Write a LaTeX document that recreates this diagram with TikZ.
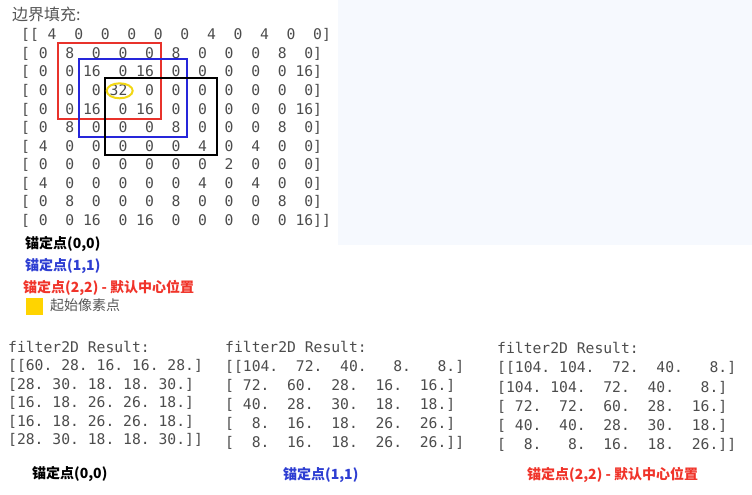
\documentclass[tikz,border=0pt]{standalone}
\usepackage{fontspec}
\newfontfamily\monof{DejaVu Sans Mono}
\newfontfamily\cjk{Noto Sans CJK SC}
\definecolor{monogray}{HTML}{4C4C4C}
\definecolor{labgray}{HTML}{555555}
\definecolor{rrect}{HTML}{E8322B}
\definecolor{brect}{HTML}{2626DA}
\definecolor{btext}{HTML}{2E3ED2}
\definecolor{rtext}{HTML}{F0342A}
\definecolor{ylw}{HTML}{FFD400}
\definecolor{ylwring}{HTML}{F2D714}
\definecolor{bgblue}{HTML}{F6F9FE}
\begin{document}
\begin{tikzpicture}[x=1pt,y=-1pt,
  mono/.style={anchor=base west, inner sep=0pt, font=\monof\fontsize{14.7}{16}\selectfont, text=monogray},
  lab/.style={anchor=base west, inner sep=0pt, font=\cjk\bfseries\fontsize{14}{16}\selectfont},
  frame/.style={line width=2pt}]
\useasboundingbox (0,0) rectangle (752,495);
\fill[bgblue] (338,0) rectangle (752,245);

% title
\node[anchor=base west, inner sep=0pt, font=\cjk\fontsize{16}{18}\selectfont, text=labgray] (title) at (12,21) {边界填充:};

% padded matrix
\foreach \t [count=\i] in {
  {[[~4~~0~~0~~0~~0~~0~~4~~0~~4~~0~~0]},
  {[~0~~8~~0~~0~~0~~8~~0~~0~~0~~8~~0]},
  {[~0~~0~16~~0~16~~0~~0~~0~~0~~0~16]},
  {[~0~~0~~0~32~~0~~0~~0~~0~~0~~0~~0]},
  {[~0~~0~16~~0~16~~0~~0~~0~~0~~0~16]},
  {[~0~~8~~0~~0~~0~~8~~0~~0~~0~~8~~0]},
  {[~4~~0~~0~~0~~0~~0~~4~~0~~4~~0~~0]},
  {[~0~~0~~0~~0~~0~~0~~0~~2~~0~~0~~0]},
  {[~4~~0~~0~~0~~0~~0~~4~~0~~4~~0~~0]},
  {[~0~~8~~0~~0~~0~~8~~0~~0~~0~~8~~0]},
  {[~0~~0~16~~0~16~~0~~0~~0~~0~~0~16]]}}
  \node[mono] (m\i) at (21,{34.5+18.55*(\i-1)+5.4}) {\t};

% anchor windows
\draw[frame, rrect] (57.5,43.3) rectangle (160.7,119.3);
\draw[frame, brect] (79,59.3) rectangle (187.3,137.3);
\draw[frame, black] (105,77.7) rectangle (216.7,155);
\draw[line width=2pt, ylwring] (119.7,90.8) ellipse [x radius=13, y radius=7.5];

% legend
\node[lab, text=black] (l0) at (25,248.5) {锚定点(0,0)};
\node[lab, text=btext] (l1) at (25,270.5) {锚定点(1,1)};
\node[lab, text=rtext] (l2) at (23,292.5) {锚定点(2,2) - 默认中心位置};
\fill[ylw] (26,298) rectangle (43,315);
\node[anchor=base west, inner sep=0pt, font=\cjk\fontsize{14}{16}\selectfont, text=labgray] (l3) at (50,310.5) {起始像素点};

% results column 1
\foreach \t [count=\i] in {
  {filter2D~Result:},
  {[[60.~28.~16.~16.~28.]},
  {[28.~30.~18.~18.~30.]},
  {[16.~18.~26.~26.~18.]},
  {[16.~18.~26.~26.~18.]},
  {[28.~30.~18.~18.~30.]]}}
  \node[mono] (a\i) at (8,{346.7+18.5*(\i-1)+5.4}) {\t};

% results column 2
\foreach \t [count=\i] in {
  {filter2D~Result:},
  {[[104.~~72.~~40.~~~8.~~~8.]},
  {[~72.~~60.~~28.~~16.~~16.]},
  {[~40.~~28.~~30.~~18.~~18.]},
  {[~~8.~~16.~~18.~~26.~~26.]},
  {[~~8.~~16.~~18.~~26.~~26.]]}}
  \node[mono] (b\i) at (225,{346.7+19.1*(\i-1)+5.4}) {\t};

% results column 3
\foreach \t [count=\i] in {
  {filter2D~Result:},
  {[[104.~104.~~72.~~40.~~~8.]},
  {[104.~104.~~72.~~40.~~~8.]},
  {[~72.~~72.~~60.~~28.~~16.]},
  {[~40.~~40.~~28.~~30.~~18.]},
  {[~~8.~~~8.~~16.~~18.~~26.]]}}
  \node[mono] (c\i) at (497,{348.3+19.2*(\i-1)+5.4}) {\t};

% bottom labels
\node[lab, text=black] (la) at (32,478.5) {锚定点(0,0)};
\node[lab, text=btext] (lb) at (283,479.5) {锚定点(1,1)};
\node[lab, text=rtext] (lc) at (527,479.5) {锚定点(2,2) - 默认中心位置};
\end{tikzpicture}
\end{document}
